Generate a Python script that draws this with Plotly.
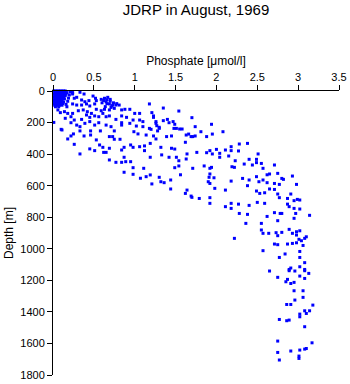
import plotly.graph_objects as go

# Surface layer (0-100 m), dense cluster
surface_phos = [0.01,0.03,0.05,0.07,0.09,0.11,0.13,0.15,
                0.02,0.04,0.06,0.08,0.10,0.12,0.14,0.17,
                0.01,0.03,0.05,0.07,0.09,0.11,0.13,0.16,
                0.02,0.04,0.06,0.08,0.10,0.12,0.15,
                0.01,0.03,0.05,0.07,0.09,0.11,0.13,
                0.02,0.04,0.06,0.08,0.10,0.12,0.14,
                0.01,0.03,0.05,0.07,0.09,0.11,
                0.02,0.04,0.06,0.08,0.10,0.13,
                0.01,0.03,0.05,0.07,0.09,0.12,
                0.02,0.04,0.06,0.08,0.11,
                0.16,0.18,0.19,0.20,0.22,0.24,0.17,0.03,0.07]
surface_depth = [0,0,0,0,0,0,0,0,
                 10,10,10,10,10,10,10,10,
                 20,20,20,20,20,20,20,20,
                 30,30,30,30,30,30,30,
                 40,40,40,40,40,40,40,
                 50,50,50,50,50,50,50,
                 60,60,60,60,60,60,
                 70,70,70,70,70,70,
                 80,80,80,80,80,80,
                 90,90,90,90,90,
                 85,65,45,25,5,10,100,100,100]

# Upper layer (0-250 m)
upper_phos = [0.21,0.24,0.33,0.38,0.26,0.29,0.35,0.39,0.44,0.49,0.52,0.53,0.24,0.29,0.35,0.41,
              0.45,0.51,0.59,0.63,0.67,0.70,0.65,0.69,0.73,0.77,0.81,0.64,0.71,0.75,0.06,0.09,
              0.14,0.18,0.24,0.31,0.37,0.42,0.47,0.53,0.59,0.63,0.69,0.15,0.22,0.26,0.35,0.41,
              0.45,0.51,0.56,0.61,0.65,0.69,0.84,0.88,0.94,1.00,1.06,0.84,0.90,0.77,0.98,1.06,
              1.10,0.01,0.10,0.22,0.29,0.33,0.39,0.45,0.51,0.56,0.65,0.71,0.84,0.84,0.94,1.02,
              1.10,0.62,0.66,0.70,0.74,0.60,0.66,0.72,0.78]
upper_depth = [4,19,8,19,46,40,57,68,61,32,46,61,82,89,89,82,
               95,82,53,46,40,53,68,82,89,89,89,99,104,110,120,137,
               131,142,142,125,120,131,142,116,125,116,120,173,163,184,180,152,
               167,158,163,142,163,158,120,116,116,142,142,158,167,180,184,184,
               194,199,243,201,216,226,205,194,216,201,216,226,201,216,205,222,
               226,60,55,65,75,75,80,95,80]

# Thermocline (250-600 m)
middle_phos = [0.11,0.22,0.25,0.33,0.18,0.26,0.33,0.38,0.46,0.46,0.58,0.53,0.57,0.61,0.45,0.51,
               0.62,0.65,0.69,0.69,0.77,0.84,0.89,0.95,0.69,0.73,0.75,0.82,0.75,0.87,0.84,0.95,
               0.98,0.87,0.98,1.11,0.87,0.98,1.07,1.14,1.19,1.30,1.32,1.36,1.21,0.99,1.04,1.14,
               1.23,1.28,1.39,1.19,1.12,1.06,1.12,1.26,1.33,1.19,1.32,
               1.18,1.21,1.23,1.23,1.18,1.35,1.54,1.70,1.40,1.35,1.26,1.26,1.27,1.30,1.30,1.42,
               1.47,1.49,1.48,1.51,1.55,1.58,1.20,1.74,1.94,
               1.45,1.63,1.66,1.69,1.71,1.74,1.81,1.88,1.95,2.08,1.62,1.45,1.49,1.42,1.51,1.54,
               1.54,1.49,1.63,1.64,1.76,1.88,1.92,1.95,2.00,2.04,2.04,2.11,2.15,2.18,2.18,2.27,
               2.28,2.38,2.23,2.19,2.22,1.94,1.92,1.85,1.71,2.40,2.34,2.44,2.49,2.49,2.51,2.55,
               2.57,2.71,1.44,1.44]
middle_depth = [247,285,272,253,304,338,399,285,279,253,253,310,342,357,367,378,
                389,389,363,437,452,452,448,448,289,289,306,306,253,357,374,342,
                357,420,486,490,515,528,553,543,532,547,575,581,589,258,272,279,
                285,253,289,332,348,353,378,304,405,420,357,
                82,137,158,167,237,108,127,169,180,188,194,205,220,230,237,201,
                194,211,237,237,241,241,243,226,211,
                285,279,273,289,289,285,258,289,273,258,325,363,368,420,420,442,
                475,486,431,399,389,391,378,399,370,395,420,374,412,378,353,380,
                336,332,442,480,484,484,490,475,490,433,463,469,454,433,399,459,
                490,469,564,621]

# Deep water (500-1100 m)
deep_phos = [1.56,1.92,1.91,1.97,1.90,1.92,2.18,2.32,2.40,2.49,2.62,2.65,2.75,2.80,2.82,2.93,
             2.52,2.57,2.62,2.71,2.77,2.98,2.38,1.98,2.11,2.49,2.53,2.59,2.65,2.71,2.75,2.77,
             2.91,2.87,2.95,2.99,3.02,1.64,1.62,1.69,1.70,1.79,1.92,1.92,2.18,2.27,2.40,2.50,
             2.59,2.11,2.18,2.28,2.38,2.62,2.71,2.78,2.80,2.87,2.89,2.95,3.02,2.97,2.95,3.14,
             2.36,2.55,2.75,2.55,2.57,2.64,2.73,2.75,2.80,2.89,2.93,2.98,3.02,2.98,3.01,3.04,
             3.08,3.10,3.06,2.22,2.71,2.75,2.87,2.93,2.98,2.57,2.77,2.84,3.02,3.02,3.08,2.89,
             2.91,3.02,3.08]
deep_depth = [531,526,547,550,575,586,571,554,564,543,531,526,522,554,560,539,
              575,564,581,586,592,592,600,617,628,634,649,645,621,624,653,676,
              653,681,695,687,691,628,649,666,674,681,676,712,712,717,725,706,
              712,733,744,776,782,795,771,776,776,717,733,744,748,776,807,788,
              839,839,822,881,902,902,898,917,896,877,902,892,886,913,940,949,
              934,924,979,934,970,974,970,966,962,1012,1055,1033,1017,1055,1088,1131,
              1122,1114,1131]

# Bottom water (1100-1700 m)
bottom_phos = [2.65,2.75,2.89,2.96,3.08,3.13,3.02,3.08,2.87,2.85,2.91,2.95,2.95,3.06,2.96,3.06,
               2.86,2.91,3.18,3.08,3.14,3.10,3.02,3.02,2.77,2.86,2.89,3.08,2.75,3.17,2.75,2.91,
               3.02,3.08,3.10,2.77,3.01,3.01]
bottom_depth = [1141,1181,1139,1141,1139,1156,1173,1188,1194,1209,1220,1213,1266,1266,1325,1308,
                1353,1353,1357,1393,1393,1410,1414,1431,1448,1456,1452,1494,1585,1596,1657,1648,
                1642,1636,1632,1705,1680,1695]

phosphate = surface_phos + upper_phos + middle_phos + deep_phos + bottom_phos
depth = surface_depth + upper_depth + middle_depth + deep_depth + bottom_depth

x_ticks = [0, 0.5, 1, 1.5, 2, 2.5, 3, 3.5]
x_tick_text = ["0", "0.5", "1", "1.5", "2", "2.5", "3", "3.5"]
y_ticks = [0, 200, 400, 600, 800, 1000, 1200, 1400, 1600, 1800]

font_family = "Liberation Sans, Arial, Helvetica, sans-serif"

fig = go.Figure()
fig.add_trace(go.Scatter(
    x=phosphate, y=depth, mode="markers",
    marker=dict(symbol="square", size=3, color="#0000ff", line=dict(width=0)),
    cliponaxis=False, showlegend=False, hoverinfo="skip"))

fig.update_layout(
    width=350, height=384,
    margin=dict(l=53, r=10.5, t=91, b=9),
    paper_bgcolor="white", plot_bgcolor="white",
    font=dict(family=font_family, size=11, color="black"),
    title=dict(text="JDRP in August, 1969", x=0.5, xref="paper",
               y=1 - 10 / 384, yref="container", yanchor="middle",
               font=dict(size=15, color="black", family=font_family)),
    xaxis=dict(side="top", range=[0, 3.5], tickvals=x_ticks, ticktext=x_tick_text,
               showline=True, linecolor="black", linewidth=1, mirror=False,
               ticks="outside", ticklen=5, tickcolor="black", tickwidth=1,
               showgrid=False, zeroline=False, automargin=False,
               title=dict(text="Phosphate [\u03bcmol/l]", font=dict(size=12), standoff=2),
               tickfont=dict(size=11)),
    yaxis=dict(range=[1800, 0], tickvals=y_ticks,
               showline=True, linecolor="black", linewidth=1, mirror=False,
               ticks="outside", ticklen=5, tickcolor="black", tickwidth=1,
               showgrid=False, zeroline=False, automargin=False,
               title=dict(text="Depth [m]", font=dict(size=12), standoff=4),
               tickfont=dict(size=11)),
)

fig.write_html("out.html")
